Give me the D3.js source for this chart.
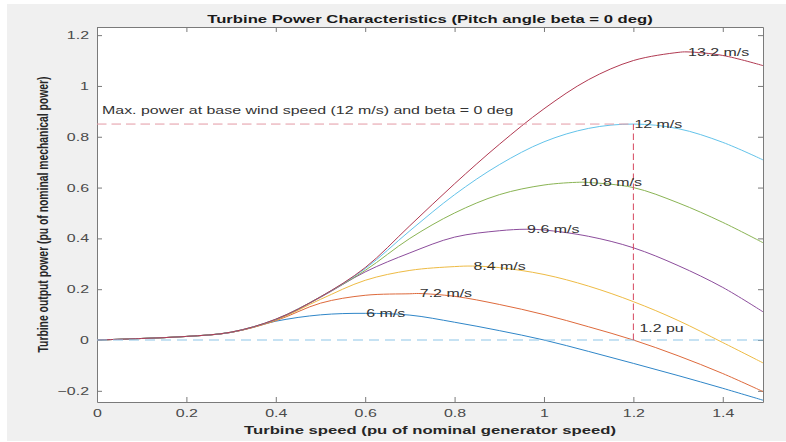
<!DOCTYPE html>
<html>
<head>
<meta charset="utf-8">
<script src="https://cdn.jsdelivr.net/npm/d3@7"></script>
<style>
  body { margin: 0; background: #ffffff; }
  svg { display: block; font-family: "Liberation Sans", Arial, Helvetica, sans-serif; }
</style>
</head>
<body>
<svg id="chart"></svg>
<script>
// turbine speed grid (pu)
const speedPu = [0, 0.1, 0.2, 0.3, 0.4, 0.5, 0.6, 0.7, 0.8, 0.9, 1.0, 1.1, 1.2, 1.3, 1.4, 1.49];

// output power per wind speed (pu)
const p6   = [0, 0.006, 0.014, 0.030, 0.074, 0.099, 0.105, 0.098, 0.070, 0.037, 0.000, -0.045, -0.092, -0.140, -0.190, -0.237];
const p7_2 = [0, 0.006, 0.014, 0.030, 0.076, 0.145, 0.176, 0.182, 0.172, 0.140, 0.100, 0.052, 0.000, -0.062, -0.132, -0.203];
const p8_4 = [0, 0.006, 0.014, 0.030, 0.078, 0.160, 0.235, 0.274, 0.289, 0.285, 0.258, 0.212, 0.151, 0.077, -0.010, -0.090];
const p9_6 = [0, 0.006, 0.014, 0.030, 0.080, 0.168, 0.268, 0.343, 0.405, 0.430, 0.433, 0.408, 0.363, 0.293, 0.207, 0.111];
const p10_8 = [0, 0.006, 0.014, 0.031, 0.081, 0.170, 0.274, 0.400, 0.500, 0.572, 0.610, 0.620, 0.600, 0.540, 0.463, 0.383];
const p12  = [0, 0.006, 0.014, 0.031, 0.082, 0.170, 0.281, 0.430, 0.572, 0.690, 0.780, 0.833, 0.850, 0.832, 0.778, 0.709];
const p13_2 = [0, 0.006, 0.014, 0.031, 0.082, 0.170, 0.285, 0.450, 0.615, 0.770, 0.910, 1.025, 1.100, 1.132, 1.120, 1.080];

const windLabels = ["6 m/s", "7.2 m/s", "8.4 m/s", "9.6 m/s", "10.8 m/s", "12 m/s", "13.2 m/s"];
const seriesValues = [p6, p7_2, p8_4, p9_6, p10_8, p12, p13_2];
// maximum of each curve (where the label sits)
const peakSpeed = [0.60, 0.72, 0.84, 0.96, 1.08, 1.20, 1.32];
const peakPower = [0.105, 0.183, 0.291, 0.436, 0.621, 0.850, 1.134];
const colors = ["#2f86c8", "#de6a3c", "#eebb44", "#8c4d9c", "#8ab454", "#63c3ea", "#b13a52"];

const xTicks = [0, 0.2, 0.4, 0.6, 0.8, 1, 1.2, 1.4];
const yTicks = [-0.2, 0, 0.2, 0.4, 0.6, 0.8, 1, 1.2];

const basePower = 0.85;
const baseSpeed = 1.2;

const width = 786;
const height = 442;
const SX = 1.45; // picture text is stretched sideways

const svg = d3.select("#chart")
  .attr("width", width)
  .attr("height", height);

// figure background
svg.append("rect")
  .attr("x", 7).attr("y", 4)
  .attr("width", width - 7).attr("height", height - 5)
  .attr("fill", "#f0f0f0");

const x = d3.scaleLinear().domain([0, 1.49]).range([97, 763]);
const y = d3.scaleLinear().domain([-0.244, 1.232]).range([402, 27]);

svg.append("rect")
  .attr("x", x(0)).attr("y", y(1.232))
  .attr("width", x(1.49) - x(0)).attr("height", y(-0.244) - y(1.232))
  .attr("fill", "#ffffff");

svg.append("clipPath").attr("id", "plotClip")
  .append("rect")
  .attr("x", x(0)).attr("y", y(1.232))
  .attr("width", x(1.49) - x(0)).attr("height", y(-0.244) - y(1.232));

function stretch(sel) {
  sel.each(function() {
    const t = d3.select(this);
    const tx = +t.attr("x") || 0;
    const ty = +t.attr("y") || 0;
    t.attr("x", 0).attr("y", 0)
      .attr("transform", `translate(${tx},${ty}) scale(${SX},1)`);
  });
}

// axes
const axisColor = "#7a7a7a";
const fmt = d => d3.format("~g")(d);

const gx = svg.append("g")
  .attr("transform", `translate(0,${y(-0.244)})`)
  .call(d3.axisBottom(x).tickValues(xTicks).tickFormat(fmt).tickSize(-5).tickSizeOuter(0).tickPadding(7));
const gy = svg.append("g")
  .attr("transform", `translate(${x(0)},0)`)
  .call(d3.axisLeft(y).tickValues(yTicks).tickFormat(fmt).tickSize(-5).tickSizeOuter(0).tickPadding(8));
const gt = svg.append("g")
  .attr("transform", `translate(0,${y(1.232)})`)
  .call(d3.axisTop(x).tickValues(xTicks).tickFormat("").tickSize(-5).tickSizeOuter(0));
const gr = svg.append("g")
  .attr("transform", `translate(${x(1.49)},0)`)
  .call(d3.axisRight(y).tickValues(yTicks).tickFormat("").tickSize(-5).tickSizeOuter(0));

[gx, gy, gt, gr].forEach(g => {
  g.selectAll("path, line").attr("stroke", axisColor);
  g.selectAll("text").attr("fill", "#4a4a4a").style("font-size", "11px");
});
stretch(gx.selectAll("text"));
stretch(gy.selectAll("text"));

// curves
const line = d3.line()
  .x(d => x(d[0]))
  .y(d => y(d[1]))
  .curve(d3.curveCatmullRom.alpha(0.5));

const curves = svg.append("g").attr("clip-path", "url(#plotClip)");
seriesValues.forEach((vals, i) => {
  let pts = speedPu.map((s, j) => [s, vals[j]])
    .filter(p => Math.abs(p[0] - peakSpeed[i]) > 0.005);
  pts.push([peakSpeed[i], peakPower[i]]);
  pts.sort((a, b) => a[0] - b[0]);
  curves.append("path")
    .datum(pts)
    .attr("fill", "none")
    .attr("stroke", colors[i])
    .attr("stroke-width", 1)
    .attr("d", line);
});

// reference dashed lines
svg.append("line")
  .attr("x1", x(0)).attr("x2", x(1.49))
  .attr("y1", y(0)).attr("y2", y(0))
  .attr("stroke", "#8ec5e8").attr("stroke-width", 1.2)
  .attr("stroke-dasharray", "10,6");
svg.append("line")
  .attr("x1", x(0)).attr("x2", x(baseSpeed))
  .attr("y1", y(basePower)).attr("y2", y(basePower))
  .attr("stroke", "#e39aa5").attr("stroke-width", 1)
  .attr("stroke-dasharray", "9.5,5");
svg.append("line")
  .attr("x1", x(baseSpeed)).attr("x2", x(baseSpeed))
  .attr("y1", y(0)).attr("y2", y(basePower))
  .attr("stroke", "#d6475f").attr("stroke-width", 1)
  .attr("stroke-dasharray", "6.5,3.5");

// curve labels
const labels = svg.append("g")
  .selectAll("text")
  .data(windLabels)
  .enter()
  .append("text")
  .attr("x", (d, i) => x(peakSpeed[i]) + 1)
  .attr("y", (d, i) => y(peakPower[i]))
  .attr("dy", "0.35em")
  .attr("fill", "#333333")
  .style("font-size", "11px")
  .text(d => d);
stretch(labels);

const notes = svg.append("g");
notes.append("text")
  .attr("x", x(0) + 5).attr("y", y(basePower) - 14)
  .attr("dy", "0.35em")
  .attr("fill", "#333333")
  .style("font-size", "11px")
  .text("Max. power at base wind speed (12 m/s) and beta = 0 deg");
notes.append("text")
  .attr("x", x(baseSpeed) + 6).attr("y", y(0) - 12)
  .attr("dy", "0.35em")
  .attr("fill", "#333333")
  .style("font-size", "11px")
  .text("1.2 pu");
stretch(notes.selectAll("text"));

// titles
const titles = svg.append("g");
titles.append("text")
  .attr("x", 430).attr("y", 19)
  .attr("dy", "0.35em")
  .attr("text-anchor", "middle")
  .style("font-size", "11.5px").style("font-weight", "bold")
  .attr("fill", "#1a1a1a")
  .text("Turbine Power Characteristics (Pitch angle beta = 0 deg)");
titles.append("text")
  .attr("x", 430).attr("y", 430)
  .attr("dy", "0.35em")
  .attr("text-anchor", "middle")
  .style("font-size", "11.5px").style("font-weight", "bold")
  .attr("fill", "#262626")
  .text("Turbine speed (pu of nominal generator speed)");
stretch(titles.selectAll("text"));

svg.append("text")
  .attr("transform", `translate(43,214.5) rotate(-90) scale(1,${SX})`)
  .attr("dy", "0.35em")
  .attr("text-anchor", "middle")
  .attr("textLength", 276)
  .attr("lengthAdjust", "spacingAndGlyphs")
  .style("font-size", "10.5px")
  .style("font-weight", "bold")
  .attr("fill", "#262626")
  .text("Turbine output power (pu of nominal mechanical power)");
</script>
</body>
</html>
